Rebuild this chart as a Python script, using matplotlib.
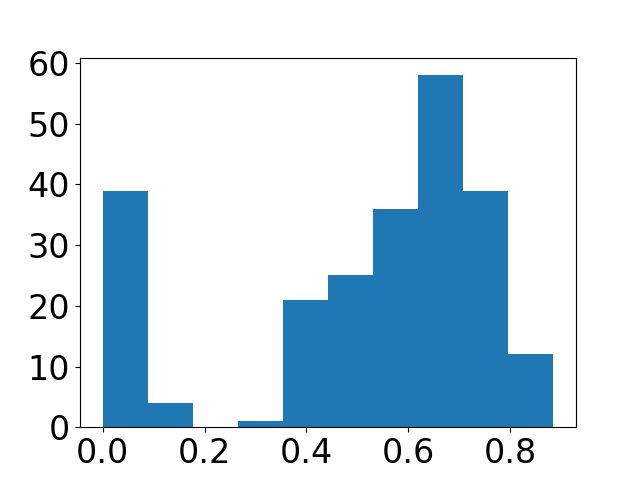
import matplotlib
matplotlib.use("Agg")
import matplotlib.pyplot as plt
import numpy as np

# histogram counts (10 bins)
counts = [39, 4, 0, 1, 21, 25, 36, 58, 39, 12]
x_min = 0.0
x_max = 0.8845

edges = np.linspace(x_min, x_max, len(counts) + 1)

plt.rcParams['font.size'] = 24
fig, ax = plt.subplots(figsize=(6.4, 4.8), dpi=100)
ax.hist(edges[:-1], bins=edges, weights=counts, color='#1f77b4')
ax.set_xticks([0.0, 0.2, 0.4, 0.6, 0.8])
ax.set_yticks(np.arange(0, 61, 10))
fig.savefig("out.png")
